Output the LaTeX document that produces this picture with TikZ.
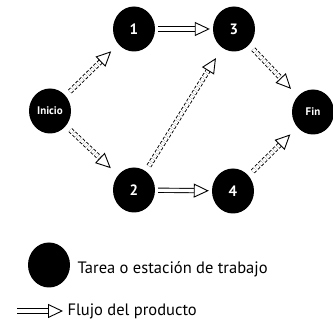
\documentclass[tikz,border=0pt]{standalone}
\usepackage{fontspec}
\setmainfont{PT Sans}
\usetikzlibrary{arrows.meta, positioning, shapes.geometric}

\tikzset{
  tarea/.style={ellipse, fill=black, minimum width=42pt, minimum height=45pt,
    inner sep=0pt, text=white, font=\bfseries\fontsize{15}{15}\selectfont},
  flujo/.style={double, double distance=3.4pt, line width=0.9pt,
    -{Triangle[open, length=15pt, width=14pt, line width=0.9pt]}, shorten <=3pt, shorten >=3pt},
  diag/.style={flujo, densely dashed, shorten <=6pt, shorten >=10pt}
}

\begin{document}
\begin{tikzpicture}[x=1pt, y=-1pt]
\useasboundingbox (0,0) rectangle (333,328);

% Tareas
\node[tarea, font=\bfseries\fontsize{11}{11}\selectfont] (inicio) at (50,111) {Inicio};
\node[tarea] (t1) at (134,29) {1};
\node[tarea] (t3) at (234,29) {3};
\node[tarea] (t2) at (134,190) {2};
\node[tarea] (t4) at (233,191) {4};
\node[tarea, font=\bfseries\fontsize{11}{11}\selectfont] (fin) at (313,112) {Fin};

% Flujo del producto
\draw[diag] (inicio) -- (t1);
\draw[diag] (inicio) -- (t2);
\draw[flujo] (t1) -- (t3);
\draw[flujo] (t2) -- (t4);
\draw[diag, shorten >=12pt] (t2) -- (t3);
\draw[diag] (t3) -- (fin);
\draw[diag] (t4) -- (fin);

% Leyenda
\node[tarea] (leyTarea) at (49,265) {};
\node[anchor=west, font=\fontsize{16.5}{16.5}\selectfont] (txtTarea) at (74,269) {Tarea o estación de trabajo};
\coordinate (leyA) at (17,311);
\coordinate (leyB) at (63,311);
\draw[flujo, shorten <=0pt, shorten >=0pt] (leyA) -- (leyB);
\node[anchor=west, font=\fontsize{16.5}{16.5}\selectfont] (txtFlujo) at (64,311) {Flujo del producto};
\end{tikzpicture}
\end{document}
